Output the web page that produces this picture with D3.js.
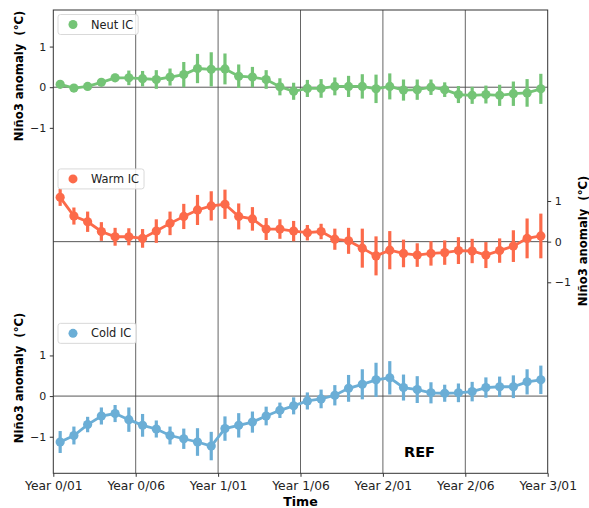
<!DOCTYPE html>
<html>
<head>
<meta charset="utf-8">
<script src="https://cdn.jsdelivr.net/npm/d3@7"></script>
<style>
html,body{margin:0;padding:0;background:#fff;}
svg text{font-family:"DejaVu Sans",sans-serif;}
</style>
</head>
<body>
<svg id="chart" width="589" height="508"></svg>
<script>
const xTickLabels = ["Year 0/01","Year 0/06","Year 1/01","Year 1/06","Year 2/01","Year 2/06","Year 3/01"];
const yTicks = [-1, 0, 1];

const neutMean = [0.07,-0.02,0.02,0.12,0.23,0.23,0.21,0.19,0.25,0.31,0.46,0.44,0.45,0.27,0.25,0.19,0.01,-0.10,
                  -0.03,-0.03,0.02,0.02,0.02,-0.04,0.02,-0.07,-0.06,0.00,-0.06,-0.18,-0.20,-0.18,-0.20,-0.16,-0.14,-0.04];
const neutErr  = [0.05,0.04,0.05,0.08,0.10,0.18,0.19,0.23,0.21,0.31,0.36,0.42,0.38,0.29,0.25,0.23,0.21,0.21,
                  0.21,0.23,0.22,0.26,0.30,0.35,0.32,0.26,0.25,0.19,0.18,0.21,0.21,0.22,0.26,0.30,0.34,0.37];

const warmMean = [1.09,0.63,0.49,0.25,0.12,0.12,0.08,0.26,0.45,0.62,0.78,0.88,0.92,0.62,0.56,0.31,0.31,0.26,
                  0.22,0.25,0.06,0.02,-0.16,-0.35,-0.21,-0.29,-0.33,-0.29,-0.27,-0.22,-0.23,-0.33,-0.22,-0.11,0.08,0.14];
const warmErr  = [0.21,0.21,0.25,0.23,0.22,0.21,0.23,0.29,0.29,0.31,0.37,0.36,0.36,0.32,0.29,0.27,0.24,0.25,
                  0.19,0.19,0.26,0.32,0.48,0.48,0.47,0.34,0.29,0.30,0.30,0.33,0.30,0.32,0.30,0.39,0.49,0.55];

const coldMean = [-1.13,-0.97,-0.70,-0.49,-0.43,-0.58,-0.72,-0.81,-0.97,-1.05,-1.13,-1.23,-0.80,-0.72,-0.64,-0.49,-0.35,-0.24,
                  -0.12,-0.07,0.02,0.19,0.29,0.40,0.45,0.21,0.16,0.08,0.07,0.08,0.11,0.21,0.23,0.23,0.35,0.40];
const coldErr  = [0.27,0.22,0.19,0.21,0.21,0.30,0.28,0.21,0.22,0.25,0.34,0.35,0.30,0.30,0.26,0.23,0.19,0.21,
                  0.21,0.23,0.25,0.33,0.37,0.42,0.41,0.32,0.33,0.26,0.21,0.23,0.24,0.25,0.25,0.28,0.31,0.35];

const seriesNames = ["Neut IC","Warm IC","Cold IC"];
const seriesColors = ["#74c476","#fc6a4a","#6baed6"];

const svg = d3.select("#chart");
const L = 53.3, R = 547.7, T = 10, B = 473.3;
const panelH = (B - T) / 3;
const nPts = neutMean.length;

const x = d3.scaleLinear().domain([0, nPts]).range([L, R]);
const tickVals = d3.range(0, nPts + 1, 6);

const panels = [
  {mean: neutMean, err: neutErr, side: "left"},
  {mean: warmMean, err: warmErr, side: "right"},
  {mean: coldMean, err: coldErr, side: "left"}
];

// vertical grid lines
svg.append("g").selectAll("line").data(tickVals.slice(1, -1)).join("line")
  .attr("x1", d => x(d)).attr("x2", d => x(d)).attr("y1", T).attr("y2", B)
  .attr("stroke", "#555").attr("stroke-width", 0.9);

panels.forEach((p, k) => {
  const top = T + k * panelH, bot = top + panelH;
  const y = d3.scaleLinear().domain([-1.9, 1.9]).range([bot, top]);
  const col = seriesColors[k];
  const g = svg.append("g");
  // zero line
  g.append("line").attr("x1", L).attr("x2", R).attr("y1", y(0)).attr("y2", y(0))
    .attr("stroke", "#444").attr("stroke-width", 0.9);
  // axis
  const ax = p.side === "left" ? d3.axisLeft(y) : d3.axisRight(y);
  ax.tickValues(yTicks).tickFormat(d => d < 0 ? "\u2212" + Math.abs(d) : d).tickSize(3.5).tickPadding(3.5);
  const ag = g.append("g").attr("transform", `translate(${p.side === "left" ? L : R},0)`).call(ax);
  ag.select(".domain").remove();
  ag.selectAll(".tick line").attr("stroke", "#333");
  ag.selectAll(".tick text").attr("font-size", 11).attr("fill", "#222")
    .style("font-family", "DejaVu Sans");
  // error bars
  g.append("g").selectAll("line").data(p.mean).join("line")
    .attr("x1", (d, i) => x(i + 0.5)).attr("x2", (d, i) => x(i + 0.5))
    .attr("y1", (d, i) => y(d - p.err[i])).attr("y2", (d, i) => y(d + p.err[i]))
    .attr("stroke", col).attr("stroke-width", 3.2);
  // line
  const line = d3.line().x((d, i) => x(i + 0.5)).y(d => y(d));
  g.append("path").datum(p.mean).attr("d", line).attr("fill", "none")
    .attr("stroke", col).attr("stroke-width", 2.8);
  // markers
  g.append("g").selectAll("circle").data(p.mean).join("circle")
    .attr("cx", (d, i) => x(i + 0.5)).attr("cy", d => y(d)).attr("r", 4.6).attr("fill", col);
  // legend
  const lg = g.append("g").attr("transform", `translate(58,${top + 4.5})`);
  const txt = seriesNames[k];
  const rect = lg.append("rect").attr("x", 0).attr("y", 0).attr("height", 20)
    .attr("rx", 2.5).attr("fill", "#fff").attr("fill-opacity", 0.85).attr("stroke", "#d5d5d5").attr("stroke-width", 0.9);
  lg.append("circle").attr("cx", 15).attr("cy", 10).attr("r", 4.5).attr("fill", col);
  const t = lg.append("text").attr("x", 33).attr("y", 14).attr("font-size", 11.4).attr("fill", "#222").text(txt);
  rect.attr("width", 33 + t.node().getComputedTextLength() + 5);
});

// frame
svg.append("rect").attr("x", L).attr("y", T).attr("width", R - L).attr("height", B - T)
  .attr("fill", "none").attr("stroke", "#333").attr("stroke-width", 1);

// x axis
const xa = d3.axisBottom(x).tickValues(tickVals).tickFormat((d, i) => xTickLabels[i]).tickSize(3.5).tickPadding(4);
const xg = svg.append("g").attr("transform", `translate(0,${B})`).call(xa);
xg.select(".domain").remove();
xg.selectAll(".tick line").attr("stroke", "#333");
xg.selectAll(".tick text").attr("font-size", 12.3).attr("fill", "#222").style("font-family", "DejaVu Sans");

// axis labels
const ylab = "Niño3 anomaly  (°C)";
const ylFont = 11.6;
[[23, 76], [23, 378], [587, 241]].forEach(([tx, ty]) => {
  svg.append("text").attr("transform", `translate(${tx},${ty}) rotate(-90)`).attr("text-anchor", "middle")
    .attr("font-size", ylFont).attr("font-weight", "bold").style("white-space", "pre").text(ylab);
});
svg.append("text").attr("x", (L + R) / 2).attr("y", 506).attr("text-anchor", "middle")
  .attr("font-size", 12.6).attr("font-weight", "bold").text("Time");
svg.append("text").attr("x", 419.5).attr("y", 457).attr("text-anchor", "middle")
  .attr("font-size", 14.5).attr("font-weight", "bold").text("REF");
</script>
</body>
</html>
